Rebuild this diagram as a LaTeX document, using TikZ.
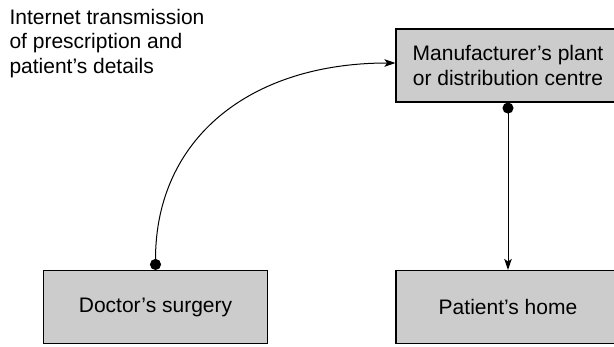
\documentclass[tikz,border=0pt]{standalone}
\usepackage{fontspec}
\setmainfont{Liberation Sans}
\usetikzlibrary{arrows.meta}
\begin{document}
\begin{tikzpicture}[x=1pt,y=-1pt,
  box/.style={draw=black,line width=1.1pt,fill=black!20,minimum width=224pt,minimum height=73pt,inner sep=0pt,align=center,font=\fontsize{21}{24.5}\selectfont},
  conn/.style={line width=1pt,{Circle[length=11pt]}-{Stealth[length=11pt,width=7.5pt,inset=2.5pt]}}]
\useasboundingbox (0,0) rectangle (614,346);
\node[box] (mfg) at (508,65.5) {Manufacturer’s plant\\or distribution centre};
\node[box] (doc) at (155.5,307) {Doctor’s surgery};
\node[box] (home) at (508,307) {Patient’s home};
\node[anchor=north west,inner sep=0pt,align=left,font=\fontsize{21}{24.5}\selectfont] (lbl) at (9.3,8.6) {Internet transmission\\of prescription and\\patient’s details};
\draw[conn] (doc.north) .. controls +(0,-131) and +(-146,0) .. ([yshift=2.5pt]mfg.west);
\draw[conn] (mfg.south) -- (home.north);
\end{tikzpicture}
\end{document}
